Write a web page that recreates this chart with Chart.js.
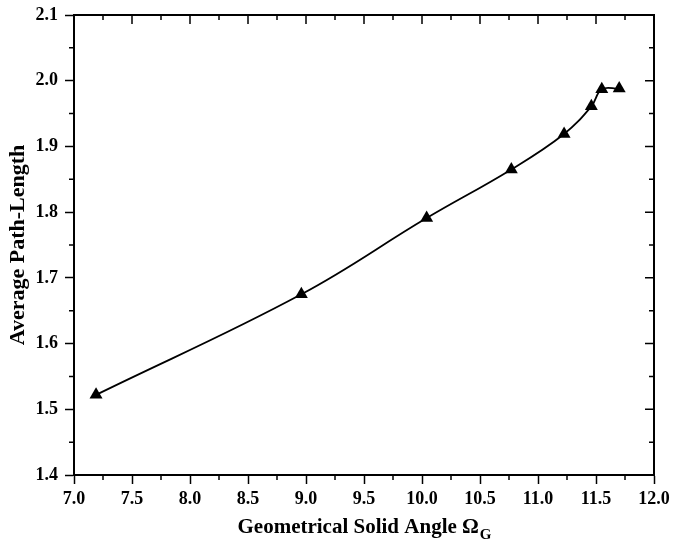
<!DOCTYPE html>
<html>
<head>
<meta charset="utf-8">
<script src="https://cdn.jsdelivr.net/npm/chart.js@4.4.1/dist/chart.umd.min.js"></script>
<style>
  html, body { margin: 0; padding: 0; background: #fff; }
  #wrap { width: 673px; height: 549px; }
</style>
</head>
<body>
<div id="wrap"><canvas id="chart" width="673" height="549"></canvas></div>
<script>
// values
const solidAngle = [7.19, 8.96, 10.04, 10.77, 11.225, 11.46, 11.55, 11.70];
const pathLength = [1.522, 1.675, 1.791, 1.865, 1.919, 1.961, 1.987, 1.988];
const xTicks = [7.0, 7.5, 8.0, 8.5, 9.0, 9.5, 10.0, 10.5, 11.0, 11.5, 12.0];
const yTicks = [1.4, 1.5, 1.6, 1.7, 1.8, 1.9, 2.0, 2.1];
const xTitle = 'Geometrical Solid Angle \u03A9';
const xTitleSub = 'G';
const yTitle = 'Average Path-Length';

const FONT = "'Liberation Serif', 'Times New Roman', serif";
const MAJOR = 9;
const MINOR = 5;

// frame: top/right axes with inward ticks, minor ticks everywhere, subscripted x title
const framePlugin = {
    id: 'frame',
    afterDraw(chart) {
        const { ctx, chartArea: a, scales: { x, y } } = chart;
        ctx.save();
        ctx.strokeStyle = '#000';
        ctx.lineWidth = 2;
        ctx.beginPath();
        ctx.moveTo(a.left, a.top);
        ctx.lineTo(a.right, a.top);
        ctx.lineTo(a.right, a.bottom);
        ctx.stroke();

        ctx.lineWidth = 1.5;
        ctx.beginPath();
        for (let v = 7; v <= 12.001; v += 0.25) {
            const px = x.getPixelForValue(v);
            const major = Math.abs(v * 2 - Math.round(v * 2)) < 1e-6;
            const len = major ? MAJOR : MINOR;
            if (!major) {
                ctx.moveTo(px, a.bottom);
                ctx.lineTo(px, a.bottom + len);
            }
            ctx.moveTo(px, a.top);
            ctx.lineTo(px, a.top + len);
        }
        for (let v = 1.4; v <= 2.1001; v += 0.05) {
            const py = y.getPixelForValue(v);
            const major = Math.abs(v * 10 - Math.round(v * 10)) < 1e-6;
            const len = major ? MAJOR : MINOR;
            if (!major) {
                ctx.moveTo(a.left, py);
                ctx.lineTo(a.left - len, py);
            }
            ctx.moveTo(a.right, py);
            ctx.lineTo(a.right - len, py);
        }
        ctx.stroke();

        // x title with subscript
        ctx.fillStyle = '#000';
        ctx.textBaseline = 'alphabetic';
        ctx.font = 'bold 21px ' + FONT;
        const w1 = ctx.measureText(xTitle).width;
        ctx.font = 'bold 15px ' + FONT;
        const w2 = ctx.measureText(xTitleSub).width;
        const cx = (a.left + a.right) / 2;
        const start = cx - (w1 + w2) / 2;
        ctx.font = 'bold 21px ' + FONT;
        ctx.textAlign = 'left';
        ctx.fillText(xTitle, start, 533);
        ctx.font = 'bold 15px ' + FONT;
        ctx.fillText(xTitleSub, start + w1 + 1, 539);
        ctx.restore();
    }
};

new Chart(document.getElementById('chart').getContext('2d'), {
    type: 'line',
    data: {
        datasets: [{
            data: solidAngle.map((v, i) => ({ x: v, y: pathLength[i] })),
            borderColor: '#000',
            borderWidth: 1.8,
            backgroundColor: '#000',
            pointStyle: 'triangle',
            pointRadius: 7.5,
            pointBorderWidth: 0,
            tension: 0.4,
            fill: false
        }]
    },
    options: {
        responsive: false,
        animation: false,
        layout: { padding: { top: 15, right: 19, left: 0, bottom: 0 } },
        plugins: {
            legend: { display: false },
            tooltip: { enabled: false }
        },
        scales: {
            x: {
                type: 'linear',
                min: 7,
                max: 12,
                afterFit: (s) => { s.height = 74; s.paddingLeft = 0; s.paddingRight = 0; },
                afterBuildTicks: (s) => { s.ticks = xTicks.map(v => ({ value: v })); },
                border: { color: '#000', width: 2 },
                grid: { drawOnChartArea: false, tickLength: MAJOR, tickColor: '#000', tickWidth: 1.5 },
                ticks: {
                    color: '#000',
                    padding: 5,
                    maxRotation: 0,
                    font: { family: FONT, size: 18, weight: 'bold' },
                    callback: (v) => Number(v).toFixed(1)
                }
            },
            y: {
                type: 'linear',
                min: 1.4,
                max: 2.1,
                afterFit: (s) => { s.width = 74; s.paddingTop = 0; s.paddingBottom = 0; },
                afterBuildTicks: (s) => { s.ticks = yTicks.map(v => ({ value: v })); },
                border: { color: '#000', width: 2 },
                grid: { drawOnChartArea: false, tickLength: MAJOR, tickColor: '#000', tickWidth: 1.5 },
                title: {
                    display: true,
                    text: yTitle,
                    color: '#000',
                    font: { family: FONT, size: 22, weight: 'bold' },
                    padding: { top: 5, bottom: 0 }
                },
                ticks: {
                    color: '#000',
                    padding: 7,
                    font: { family: FONT, size: 18, weight: 'bold' },
                    callback: (v) => Number(v).toFixed(1)
                }
            }
        }
    },
    plugins: [framePlugin]
});
</script>
</body>
</html>
